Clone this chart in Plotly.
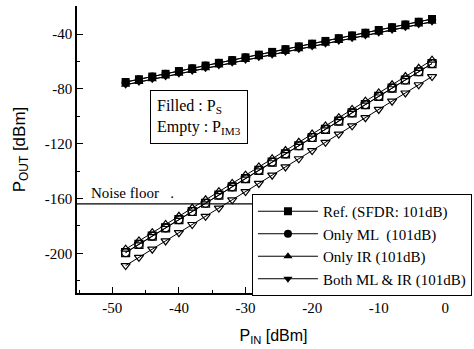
import plotly.graph_objects as go

p_in = [-48, -46, -44, -42, -40, -38, -36, -34, -32, -30, -28, -26,
        -24, -22, -20, -18, -16, -14, -12, -10, -8, -6, -4, -2]

ps_ref = [-75, -73, -71, -69, -67, -65, -63, -61, -59, -57, -55, -53,
          -51, -49, -47, -45, -43, -41, -39, -37, -35, -33, -31, -29]
ps_ml = [-75, -73, -71, -69, -67, -65, -63, -61, -59, -57, -55, -53,
         -51, -49, -47, -45, -43, -41, -39, -37, -35, -33, -31, -29]
ps_ir = [-77, -75, -73, -71, -69, -67, -65, -63, -61, -59, -57, -55,
         -53, -51, -49, -47, -45, -43, -41, -39, -37, -35, -33, -31]
ps_both = [-77, -75, -73, -71, -69, -67, -65, -63, -61, -59, -57, -55,
           -53, -51, -49, -47, -45, -43, -41, -39, -37, -35, -33, -31]

im3_ref = [-199.5, -193.5, -187.5, -181.5, -175.5, -169.5, -163.5, -157.5,
           -151.5, -145.5, -139.5, -133.5, -127.5, -121.5, -115.5, -109.5,
           -103.5, -97.5, -91.5, -85.5, -79.5, -73.5, -67.5, -61.5]
im3_ml = [-199.5, -193.5, -187.5, -181.5, -175.5, -169.5, -163.5, -157.5,
          -151.5, -145.5, -139.5, -133.5, -127.5, -121.5, -115.5, -109.5,
          -103.5, -97.5, -91.5, -85.5, -79.5, -73.5, -67.5, -61.5]
im3_ir = [-197, -191, -185, -179, -173, -167, -161, -155, -149, -143, -137, -131,
          -125, -119, -113, -107, -101, -95, -89, -83, -77, -71, -65, -59]
im3_both = [-209, -203, -197, -191, -185, -179, -173, -167, -161, -155, -149, -143,
            -137, -131, -125, -119, -113, -107, -101, -95, -89, -83, -77, -71]

noise_floor = -164

x_tick_vals = [-50, -40, -30, -20, -10, 0]
x_tick_text = ["-50", "-40", "-30", "-20", "-10", "0"]
y_tick_vals = [-200, -160, -120, -80, -40]
y_tick_text = ["-200", "-160", "-120", "-80", "-40"]

names = ["Ref. (SFDR: 101dB)", "Only ML  (101dB)", "Only IR (101dB)", "Both ML & IR (101dB)"]
symbols = ["square", "circle", "triangle-up", "triangle-down"]
ps_all = [ps_ref, ps_ml, ps_ir, ps_both]
im3_all = [im3_ref, im3_ml, im3_ir, im3_both]

serif = "Liberation Serif"
sans = "Liberation Sans"

fig = go.Figure()

for name, sym, ps, im3 in zip(names, symbols, ps_all, im3_all):
    fig.add_trace(go.Scatter(
        x=p_in, y=im3, mode="lines+markers", showlegend=False,
        line=dict(color="black", width=1),
        marker=dict(symbol=sym + "-open", size=8, color="black",
                    line=dict(color="black", width=1.2)),
    ))
    fig.add_trace(go.Scatter(
        x=p_in, y=ps, mode="lines+markers", name=name,
        line=dict(color="black", width=1),
        marker=dict(symbol=sym, size=8, color="black"),
    ))

fig.add_shape(type="line", xref="paper", x0=0, x1=1, yref="y",
              y0=noise_floor, y1=noise_floor, line=dict(color="black", width=1.3),
              layer="below")

fig.add_annotation(x=0.03, xref="paper", y=noise_floor, yref="y", yshift=11,
                   text="Noise floor   .", showarrow=False, xanchor="left",
                   font=dict(family=serif, size=15, color="black"))

fig.add_annotation(x=-44.3, xref="x", y=-81, yref="y",
                   text="Filled : P<sub>S</sub><br>Empty : P<sub>IM3</sub>",
                   showarrow=False, xanchor="left", yanchor="top", align="left",
                   bordercolor="black", borderwidth=1, borderpad=6, bgcolor="white",
                   font=dict(family=serif, size=16, color="black"))

fig.update_layout(
    width=474, height=349,
    margin=dict(l=77, r=4, t=6, b=56, autoexpand=False),
    plot_bgcolor="white", paper_bgcolor="white",
    font=dict(family=serif, size=15, color="black"),
    legend=dict(x=1.005, xanchor="right", y=0.345, yanchor="top",
                bgcolor="white", bordercolor="black", borderwidth=1,
                font=dict(family=serif, size=15, color="black"),
                tracegroupgap=0, itemsizing="trace", itemwidth=60),
    xaxis=dict(
        range=[-55.3, 3.7], tickvals=x_tick_vals, ticktext=x_tick_text,
        ticks="inside", ticklen=6, tickcolor="black", tickwidth=1.3,
        showline=True, linecolor="black", linewidth=1.5, mirror=False,
        showgrid=False, zeroline=False, automargin=False,
        minor=dict(dtick=5, ticks="inside", ticklen=3, tickcolor="black", showgrid=False),
        title=dict(text="P<sub>IN</sub> [dBm]", font=dict(family=sans, size=16)),
        tickfont=dict(family=serif, size=15),
    ),
    yaxis=dict(
        range=[-229, -19.5], tickvals=y_tick_vals, ticktext=y_tick_text,
        ticks="inside", ticklen=6, tickcolor="black", tickwidth=1.3,
        showline=True, linecolor="black", linewidth=1.5, mirror=False,
        showgrid=False, zeroline=False, automargin=False,
        minor=dict(dtick=20, ticks="inside", ticklen=3, tickcolor="black", showgrid=False),
        title=dict(text="P<sub>OUT</sub> [dBm]", font=dict(family=sans, size=17)),
        tickfont=dict(family=serif, size=15),
    ),
)

fig.write_html("out.html", config={"displayModeBar": False},
               post_script="document.body.style.margin='0';document.body.style.overflow='hidden';")
